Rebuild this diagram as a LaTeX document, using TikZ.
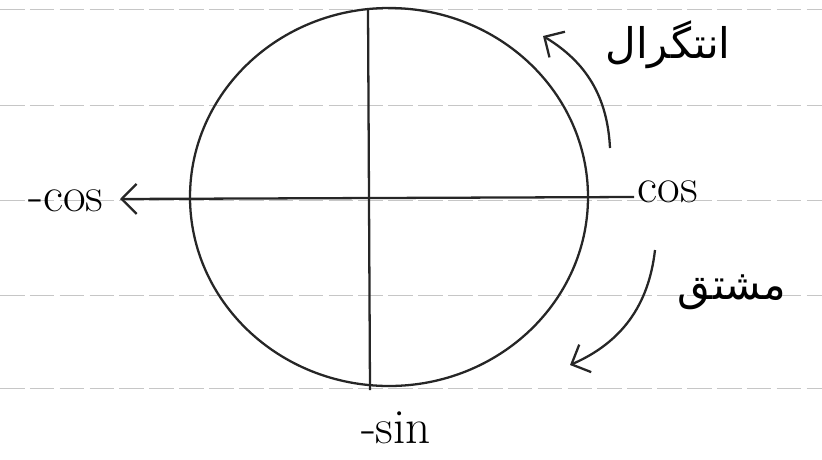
\documentclass[tikz,border=0pt]{standalone}
\usepackage{fontspec}
\newfontfamily\arabicfont[Script=Arabic]{DejaVu Sans}
\TeXXeTstate=1
\usetikzlibrary{arrows.meta}

\begin{document}
\begin{tikzpicture}[x=0.2mm,y=-0.2mm,
    pen/.style={black!85,line width=1.3pt},
    rule/.style={gray!45,dashed,dash pattern=on 14pt off 3pt},
    lbl/.style={font=\fontsize{28}{30}\selectfont,inner sep=0pt},
    fa/.style={font=\arabicfont\fontsize{24}{28}\selectfont,inner sep=0pt}]
  \useasboundingbox (0,0) rectangle (822,459);
  % ruled paper
  \foreach \yy in {9,105,200,295,388}
    \draw[rule] (0,\yy) -- (822,\yy);
  % unit circle and axes
  \draw[pen] (389,197) ellipse (199 and 189);
  \coordinate (west) at (120,199);
  \coordinate (east) at (634,197);
  \coordinate (north) at (368,8);
  \coordinate (south) at (370,390);
  \draw[pen,{Straight Barb[length=3mm]}-] (west) -- (east);
  \draw[pen] (north) -- (south);
  % labels
  \node[lbl] (cos) at (668,192) {cos};
  \node[lbl] (mcos) at (66,201) {-cos};
  \node[lbl] (msin) at (396,428) {-sin};
  \node[fa] (integ) at (668,45) {\beginR انتگرال\endR};
  \node[fa] (deriv) at (732,292) {\beginR مشتق\endR};
  % integral / derivative arrows
  \coordinate (i1) at (610,148);
  \coordinate (i2) at (543,36);
  \draw[pen,-{Straight Barb[length=3mm]}] (i1) to[bend right=28] (i2);
  \coordinate (d1) at (655,250);
  \coordinate (d2) at (570,365);
  \draw[pen,-{Straight Barb[length=3mm]}] (d1) to[bend left=30] (d2);
\end{tikzpicture}
\end{document}
